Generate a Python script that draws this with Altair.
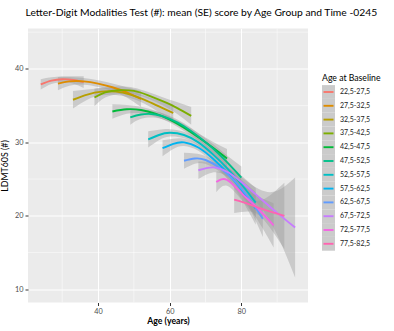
import altair as alt
import pandas as pd

FONT = "Lato"

GROUPS = ["22,5-27,5", "27,5-32,5", "32,5-37,5", "37,5-42,5", "42,5-47,5", "47,5-52,5",
          "52,5-57,5", "57,5-62,5", "62,5-67,5", "67,5-72,5", "72,5-77,5", "77,5-82,5"]
COLORS = ["#F8766D", "#DE8C00", "#B79F00", "#7CAE00", "#00BA38", "#00C08B",
          "#00BFC4", "#00B4F0", "#619CFF", "#C77CFF", "#F564E3", "#FF64B0"]

# age (years), smoothed mean score, half-width of the confidence band
AGE_1 = [24, 27, 30, 33, 36]
MEAN_1 = [37.9, 38.4, 38.6, 38.5, 38.2]
CI_1 = [0.7, 0.45, 0.4, 0.5, 0.8]

AGE_2 = [28.8, 32, 36, 40, 44, 48, 52]
MEAN_2 = [38.0, 38.3, 38.3, 38.0, 37.5, 36.8, 35.9]
CI_2 = [0.9, 0.6, 0.45, 0.45, 0.5, 0.7, 1.1]

AGE_3 = [33, 37, 41, 45, 49, 53, 57, 61]
MEAN_3 = [35.8, 36.5, 36.9, 36.9, 36.5, 35.8, 34.9, 34.0]
CI_3 = [1.2, 0.7, 0.5, 0.45, 0.45, 0.55, 0.8, 1.2]

AGE_4 = [39, 42, 46, 50, 54, 58, 62, 66]
MEAN_4 = [36.1, 36.8, 37.1, 37.0, 36.4, 35.6, 34.7, 33.6]
CI_4 = [1.2, 0.7, 0.5, 0.45, 0.45, 0.55, 0.8, 1.2]

AGE_5 = [44, 48, 52, 56, 60, 64, 68, 72, 76]
MEAN_5 = [34.2, 34.5, 34.4, 33.9, 33.1, 32.0, 30.7, 29.3, 27.8]
CI_5 = [1.0, 0.6, 0.45, 0.4, 0.4, 0.45, 0.55, 0.8, 1.3]

AGE_6 = [49, 52, 56, 60, 64, 68, 72, 76, 80]
MEAN_6 = [33.4, 33.8, 33.8, 33.2, 32.2, 30.8, 29.2, 27.3, 25.2]
CI_6 = [1.0, 0.6, 0.45, 0.4, 0.4, 0.45, 0.6, 0.9, 1.5]

AGE_7 = [54, 57, 60, 64, 68, 72, 76, 80, 84]
MEAN_7 = [30.4, 31.0, 31.3, 31.0, 30.0, 28.4, 26.5, 24.3, 21.8]
CI_7 = [1.1, 0.7, 0.5, 0.45, 0.45, 0.55, 0.75, 1.2, 2.0]

AGE_8 = [58, 61, 64, 68, 72, 76, 80, 84]
MEAN_8 = [29.2, 29.8, 30.0, 29.3, 27.8, 25.9, 23.6, 21.0]
CI_8 = [1.1, 0.7, 0.5, 0.45, 0.55, 0.8, 1.3, 2.2]

AGE_9 = [64, 67, 70, 74, 78, 82, 86]
MEAN_9 = [27.5, 27.8, 27.6, 26.5, 24.8, 22.5, 19.6]
CI_9 = [1.1, 0.7, 0.55, 0.5, 0.7, 1.2, 2.5]

AGE_10 = [68, 72, 76, 80, 85, 90, 95]
MEAN_10 = [26.2, 26.6, 26.0, 24.6, 22.5, 20.4, 18.4]
CI_10 = [1.2, 0.7, 0.6, 0.7, 1.1, 3.0, 6.8]

AGE_11 = [73, 76, 80, 84, 89]
MEAN_11 = [24.6, 24.9, 23.1, 21.3, 18.7]
CI_11 = [1.4, 0.8, 0.9, 1.5, 3.0]

AGE_12 = [78, 82, 86, 92]
MEAN_12 = [22.2, 21.6, 20.9, 20.0]
CI_12 = [1.8, 1.0, 1.3, 4.5]

AGES = [AGE_1, AGE_2, AGE_3, AGE_4, AGE_5, AGE_6, AGE_7, AGE_8, AGE_9, AGE_10, AGE_11, AGE_12]
MEANS = [MEAN_1, MEAN_2, MEAN_3, MEAN_4, MEAN_5, MEAN_6, MEAN_7, MEAN_8, MEAN_9, MEAN_10, MEAN_11, MEAN_12]
CIS = [CI_1, CI_2, CI_3, CI_4, CI_5, CI_6, CI_7, CI_8, CI_9, CI_10, CI_11, CI_12]

X_MAJOR = [40, 60, 80]
X_MINOR = [30, 50, 70, 90]
Y_MAJOR = [10, 20, 30, 40]
Y_MINOR = [15, 25, 35, 45]
X_DOMAIN = [20.45, 98.6]
Y_DOMAIN = [8.2, 45.5]

rows = []
for g, ages, means, cis in zip(GROUPS, AGES, MEANS, CIS):
    for a, m, c in zip(ages, means, cis):
        rows.append({"group": g, "age": a, "score": m, "lo": m - c, "hi": m + c})
df = pd.DataFrame(rows)

xscale = alt.Scale(domain=X_DOMAIN, nice=False, zero=False)
yscale = alt.Scale(domain=Y_DOMAIN, nice=False, zero=False)
xaxis = alt.Axis(values=X_MAJOR, title="Age (years)", titleFontWeight="bold", titleFontSize=8.7,
                 titlePadding=1.5, format="d")
yaxis = alt.Axis(values=Y_MAJOR, title="LDMT60S (#)", titleFontWeight="normal", titleFontSize=8.8,
                 titlePadding=5, format="d")

minor_x = alt.Chart(pd.DataFrame({"age": X_MINOR})).mark_rule(color="white", strokeWidth=0.5).encode(
    x=alt.X("age:Q", scale=xscale, axis=xaxis))
minor_y = alt.Chart(pd.DataFrame({"score": Y_MINOR})).mark_rule(color="white", strokeWidth=0.5).encode(
    y=alt.Y("score:Q", scale=yscale, axis=yaxis))

areas = alt.Chart(df).mark_area(interpolate="natural", color="#999999", opacity=0.4, clip=True).encode(
    x=alt.X("age:Q", scale=xscale, axis=xaxis),
    y=alt.Y("lo:Q", scale=yscale, axis=yaxis),
    y2="hi:Q",
    detail="group:N",
)
lines = alt.Chart(df).mark_line(interpolate="natural", strokeWidth=1.9, clip=True).encode(
    x=alt.X("age:Q", scale=xscale, axis=xaxis),
    y=alt.Y("score:Q", scale=yscale, axis=yaxis),
    color=alt.Color("group:N", scale=alt.Scale(domain=GROUPS, range=COLORS), legend=None),
)

main = alt.layer(minor_x, minor_y, areas, lines).properties(
    width=280, height=274,
    view=alt.ViewBackground(fill="#EBEBEB", stroke=None),
)

# custom legend
LEG_TITLE = "Age at Baseline"
leg_domain = [LEG_TITLE] + GROUPS
leg_scale = alt.Scale(domain=leg_domain, paddingInner=0, paddingOuter=0, range=[42.8, 222.2])
leg_groups = pd.DataFrame({"group": GROUPS})
leg_title = pd.DataFrame({"group": [LEG_TITLE]})

lrect = alt.Chart(leg_groups).mark_rect(color="#CBCBCB").encode(
    y=alt.Y("group:N", scale=leg_scale, axis=None, sort=leg_domain),
    x=alt.value(0), x2=alt.value(13))
lkeys = alt.Chart(leg_groups).mark_rule(strokeWidth=1.9).encode(
    y=alt.Y("group:N", scale=leg_scale, axis=None, sort=leg_domain, bandPosition=0.5),
    x=alt.value(1.5), x2=alt.value(11.5),
    color=alt.Color("group:N", scale=alt.Scale(domain=GROUPS, range=COLORS), legend=None))
llabels = alt.Chart(leg_groups).mark_text(align="left", baseline="middle", fontSize=7, font=FONT,
                                          color="#1A1A1A").encode(
    y=alt.Y("group:N", scale=leg_scale, axis=None, sort=leg_domain),
    x=alt.value(18), text="group:N")
ltitle = alt.Chart(leg_title).mark_text(align="left", baseline="middle", fontSize=8.7, font=FONT,
                                        color="black").encode(
    y=alt.Y("group:N", scale=leg_scale, axis=None, sort=leg_domain),
    x=alt.value(0), text="group:N")

legend = alt.layer(lrect, lkeys, llabels, ltitle).properties(
    width=70, height=274, view=alt.ViewBackground(stroke=None))

chart = alt.hconcat(main, legend, spacing=13).properties(
    title=alt.TitleParams("Letter-Digit Modalities Test (#): mean (SE) score by Age Group and Time -0245",
                          anchor="start", fontSize=10.3, fontWeight="normal", font=FONT, color="black",
                          dx=25, offset=10),
    padding={"left": 0, "top": 7.5, "right": 0, "bottom": 0},
    background="white",
).configure_view(stroke=None).configure_axis(
    labelFont=FONT, titleFont=FONT, labelFontSize=7.3, labelColor="#4D4D4D",
    tickColor="#333333", tickSize=3, labelPadding=2, domain=False,
    grid=True, gridColor="white", gridWidth=1, titleColor="black",
)

chart.save("out.html", embed_options={"renderer": "svg", "actions": False})
